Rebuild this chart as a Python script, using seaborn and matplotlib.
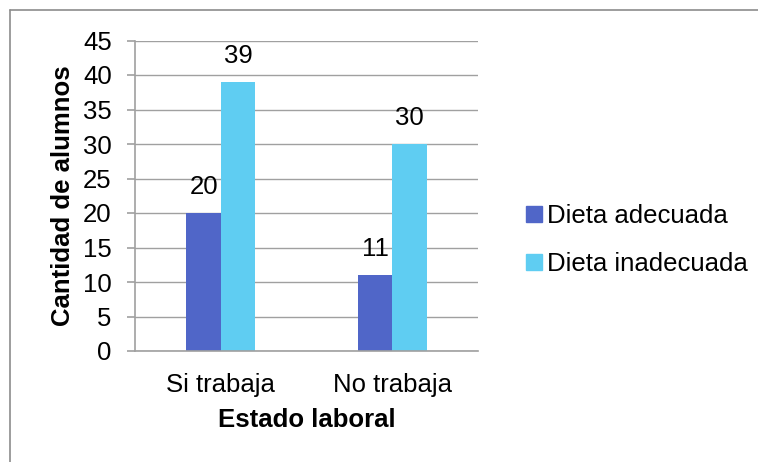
import matplotlib
matplotlib.use("Agg")
import matplotlib.pyplot as plt
import seaborn as sns
import pandas as pd
from matplotlib.lines import Line2D

categorias = ["Si trabaja", "No trabaja"]
series = ["Dieta adecuada", "Dieta inadecuada"]
adecuada = [20, 11]
inadecuada = [39, 30]
y_ticks = list(range(0, 50, 5))

colores = ["#5066C8", "#5FCDF2"]
FS = 18.5

df = pd.DataFrame({
    "Estado laboral": categorias * 2,
    "Dieta": [series[0]] * 2 + [series[1]] * 2,
    "Cantidad": adecuada + inadecuada,
})

sns.set_style("white")
plt.rcParams["font.family"] = ["Liberation Sans", "DejaVu Sans"]
plt.rcParams["text.color"] = "black"
plt.rcParams["axes.labelcolor"] = "black"
plt.rcParams["xtick.color"] = "black"
plt.rcParams["ytick.color"] = "black"

fig = plt.figure(figsize=(7.58, 4.62), dpi=100)
ax = fig.add_axes([135 / 758, 1 - 351 / 462, (478 - 135) / 758, (351 - 40.5) / 462])

sns.barplot(data=df, x="Estado laboral", y="Cantidad", hue="Dieta",
            palette=colores, width=0.4, saturation=1, ax=ax, legend=False,
            edgecolor="none", linewidth=0)

for c in ax.containers:
    ax.bar_label(c, fmt="%d", padding=10, fontsize=FS, color="black")

ax.set_xlim(-0.5, 1.5)
ax.set_ylim(0, 45)
ax.set_yticks(y_ticks)
ax.yaxis.grid(True, color="#A0A0A0", linewidth=1)
ax.set_axisbelow(True)
for s in ["top", "right"]:
    ax.spines[s].set_visible(False)
for s in ["left", "bottom"]:
    ax.spines[s].set_color("#A0A0A0")
    ax.spines[s].set_linewidth(1.2)
ax.tick_params(axis="y", which="major", left=True, length=5.8, width=1.2,
               color="#A0A0A0", labelcolor="black", labelsize=FS, pad=11)
ax.tick_params(axis="x", bottom=False, labelcolor="black", labelsize=FS, pad=12)
ax.set_xlabel("Estado laboral", fontsize=FS, fontweight="bold", labelpad=8, color="black")
ax.set_ylabel("Cantidad de alumnos", fontsize=FS, fontweight="bold", labelpad=6, color="black")

handles = [Line2D([0], [0], marker="s", linestyle="none", markersize=11,
                  markerfacecolor=col, markeredgecolor=col) for col in colores]
leg = fig.legend(handles, series, loc="center left", bbox_to_anchor=(515 / 758, 1 - 240 / 462),
                 frameon=False, fontsize=FS, handlelength=0.7, handletextpad=0.15,
                 labelspacing=0.95, borderaxespad=0)
for t in leg.get_texts():
    t.set_color("black")

# outer frame of the chart area
fig.add_artist(Line2D([10 / 758, 10 / 758], [0, 1 - 10 / 462], transform=fig.transFigure,
                      color="#8C8C8C", linewidth=1.2))
fig.add_artist(Line2D([10 / 758, 1], [1 - 10 / 462, 1 - 10 / 462], transform=fig.transFigure,
                      color="#8C8C8C", linewidth=1.2))

fig.savefig("out.png", dpi=100)
